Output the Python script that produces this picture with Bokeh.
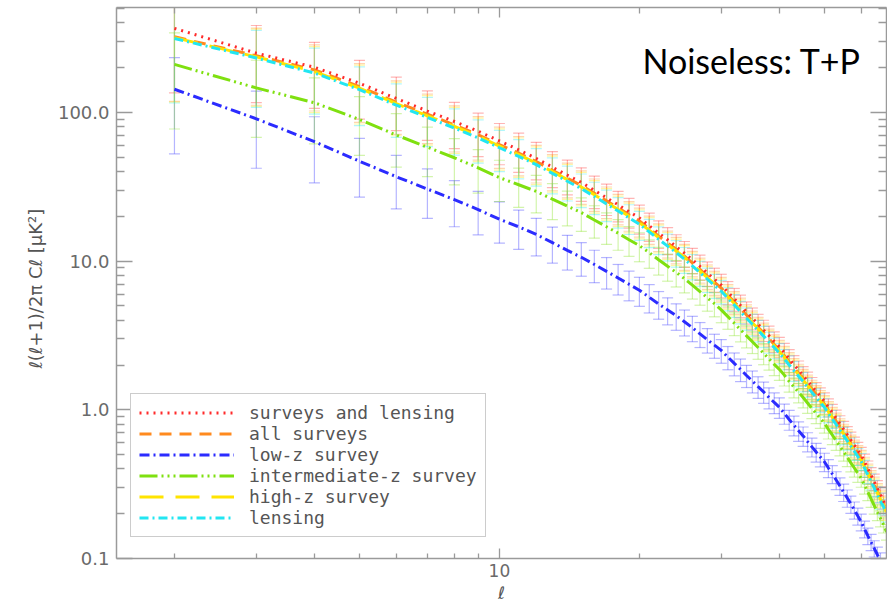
from bokeh.plotting import figure
from bokeh.models import FixedTicker, LogAxis, Legend, LegendItem, Label
from bokeh.embed import file_html
from bokeh.resources import INLINE

# multipoles
ell = list(range(2, 69))

surveys_and_lensing = [367, 250, 201, 157, 124, 102, 86.8, 74.6, 64.3, 56.0,
                       49.0, 42.8, 37.8, 33.8, 29.9, 26.6, 23.9, 21.5, 19.5, 17.3,
                       15.4, 13.9, 12.5, 11.3, 10.2, 9.20, 8.31, 7.56, 6.90, 6.18,
                       5.57, 5.03, 4.54, 4.14, 3.76, 3.44, 3.15, 2.88, 2.65, 2.42,
                       2.20, 2.01, 1.85, 1.70, 1.56, 1.44, 1.33, 1.23, 1.14, 1.04,
                       0.956, 0.876, 0.803, 0.738, 0.680, 0.626, 0.579, 0.534, 0.495, 0.446,
                       0.402, 0.363, 0.328, 0.297, 0.270, 0.245, 0.220]
all_surveys = [322, 240, 193, 149, 117, 97.1, 82.4, 70.7, 60.7, 53.1,
               46.7, 40.8, 36.1, 32.2, 28.6, 25.4, 22.8, 20.5, 18.6, 16.5,
               14.7, 13.2, 12.0, 10.8, 9.73, 8.78, 7.93, 7.21, 6.58, 5.90,
               5.31, 4.80, 4.34, 3.95, 3.59, 3.29, 3.00, 2.75, 2.53, 2.31,
               2.10, 1.92, 1.76, 1.63, 1.49, 1.38, 1.27, 1.18, 1.09, 0.995,
               0.912, 0.836, 0.767, 0.705, 0.649, 0.597, 0.552, 0.509, 0.473, 0.425,
               0.383, 0.347, 0.313, 0.284, 0.257, 0.234, 0.210]
low_z = [143, 90.5, 63.5, 46.9, 36.9, 30.5, 25.9, 22.2, 19.1, 17.0,
         15.1, 13.3, 11.8, 10.6, 9.49, 8.52, 7.70, 6.98, 6.37, 5.71,
         5.15, 4.69, 4.29, 3.91, 3.56, 3.24, 2.96, 2.72, 2.51, 2.26,
         2.05, 1.87, 1.70, 1.56, 1.43, 1.32, 1.21, 1.12, 1.04, 0.946,
         0.860, 0.787, 0.722, 0.667, 0.611, 0.563, 0.520, 0.482, 0.447, 0.406,
         0.370, 0.337, 0.307, 0.279, 0.255, 0.232, 0.212, 0.193, 0.176, 0.158,
         0.142, 0.129, 0.117, 0.106, 0.0970, 0.0888, 0.0800]
intermediate_z = [210, 146, 116, 89.5, 70.4, 58.3, 49.5, 42.4, 36.4, 32.6,
                  29.4, 26.1, 23.4, 21.2, 18.9, 17.0, 15.4, 13.9, 12.7, 11.4,
                  10.2, 9.22, 8.39, 7.62, 6.89, 6.24, 5.66, 5.17, 4.70, 4.23,
                  3.82, 3.46, 3.14, 2.87, 2.62, 2.40, 2.20, 2.02, 1.87, 1.71,
                  1.55, 1.42, 1.31, 1.21, 1.11, 1.02, 0.944, 0.874, 0.811, 0.739,
                  0.677, 0.619, 0.567, 0.521, 0.479, 0.440, 0.406, 0.374, 0.346, 0.311,
                  0.280, 0.252, 0.227, 0.205, 0.186, 0.169, 0.151]
high_z = [318, 236, 188, 145.5, 114.5, 94.8, 80.5, 69.0, 59.2, 51.9,
          45.6, 39.9, 35.3, 31.5, 27.9, 24.8, 22.2, 20.0, 18.1, 16.1,
          14.4, 12.9, 11.7, 10.6, 9.50, 8.57, 7.74, 7.04, 6.43, 5.76,
          5.19, 4.68, 4.23, 3.85, 3.51, 3.21, 2.93, 2.69, 2.47, 2.26,
          2.05, 1.88, 1.72, 1.59, 1.46, 1.34, 1.24, 1.15, 1.07, 0.972,
          0.891, 0.816, 0.748, 0.688, 0.633, 0.583, 0.539, 0.497, 0.461, 0.415,
          0.374, 0.338, 0.305, 0.277, 0.251, 0.229, 0.205]
lensing = [314, 232, 184, 142, 111.7, 92.5, 78.5, 67.3, 57.8, 50.6,
           44.5, 38.9, 34.4, 30.7, 27.2, 24.2, 21.7, 19.5, 17.7, 15.7,
           14.0, 12.6, 11.4, 10.3, 9.27, 8.36, 7.55, 6.87, 6.27, 5.62,
           5.06, 4.57, 4.13, 3.76, 3.42, 3.13, 2.86, 2.62, 2.41, 2.20,
           2.00, 1.83, 1.68, 1.55, 1.42, 1.31, 1.21, 1.12, 1.04, 0.948,
           0.869, 0.796, 0.730, 0.671, 0.618, 0.569, 0.526, 0.485, 0.450, 0.405,
           0.365, 0.330, 0.298, 0.270, 0.245, 0.223, 0.200]
# fractional 1-sigma error bars
rel_err = [0.632, 0.535, 0.471, 0.426, 0.392, 0.365, 0.343, 0.324, 0.309, 0.295,
           0.283, 0.272, 0.263, 0.254, 0.246, 0.239, 0.232, 0.226, 0.221, 0.216,
           0.211, 0.206, 0.202, 0.198, 0.194, 0.191, 0.187, 0.184, 0.181, 0.178,
           0.175, 0.173, 0.170, 0.168, 0.166, 0.163, 0.161, 0.159, 0.157, 0.155,
           0.153, 0.152, 0.150, 0.148, 0.147, 0.145, 0.144, 0.142, 0.141, 0.139,
           0.138, 0.137, 0.135, 0.134, 0.133, 0.132, 0.131, 0.130, 0.129, 0.128,
           0.126, 0.125, 0.125, 0.124, 0.123, 0.122, 0.121]

series_labels = ["surveys and lensing", "all surveys", "low-z survey",
                 "intermediate-z survey", "high-z survey", "lensing"]
series_values = [surveys_and_lensing, all_surveys, low_z, intermediate_z, high_z, lensing]
y_major = [0.1, 1, 10, 100]
y_minor = [0.2, 0.3, 0.4, 0.5, 0.6, 0.7, 0.8, 0.9, 2, 3, 4, 5, 6, 7, 8, 9,
           20, 30, 40, 50, 60, 70, 80, 90, 200, 300, 400, 500]
y_tick_labels = {0.1: "0.1", 1: "1.0", 10: "10.0", 100: "100.0"}
x_major = [10]
x_minor = [2, 3, 4, 5, 6, 7, 8, 9, 20, 30, 40, 50, 60]
x_tick_labels = {10: "10"}

colors = ["#ff2b2b", "#ff8a1e", "#2b2bff", "#7fe010", "#ffe400", "#22e6f2"]
dashes = ["2 5", "12 8", "10 4 2 4", "18 4 2 4 2 4 2 4", "24 12", "9 4 2 4"]

p = figure(x_axis_type="log", y_axis_type="log",
           x_range=(1.501, 68.0), y_range=(0.1, 507),
           width=887, height=613,
           min_border_left=116, min_border_right=1, min_border_top=7, min_border_bottom=55,
           output_backend="svg", toolbar_location=None,
           background_fill_color="white", border_fill_color="white")
p.outline_line_color = None
p.xgrid.visible = False
p.ygrid.visible = False

axis_col = "#9a9a9a"
label_col = "#6a6a6a"

def style_axis(ax, major_in, minor_in):
    ax.axis_line_color = axis_col
    ax.axis_line_width = 1.5
    ax.major_tick_line_color = axis_col
    ax.minor_tick_line_color = axis_col
    ax.major_tick_line_width = 1.3
    ax.minor_tick_line_width = 1.3
    ax.major_tick_in = major_in
    ax.major_tick_out = 0
    ax.minor_tick_in = minor_in
    ax.minor_tick_out = 0

ya = p.yaxis[0]
ya.ticker = FixedTicker(ticks=y_major, minor_ticks=y_minor)
ya.major_label_overrides = y_tick_labels
style_axis(ya, 16, 8)
ya.major_label_text_font = "DejaVu Sans"
ya.major_label_text_font_size = "18px"
ya.major_label_text_color = label_col
ya.major_label_standoff = 7
ya.axis_label = "ℓ(ℓ+1)/2π  Cℓ  [μK²]"
ya.axis_label_text_font = "DejaVu Sans"
ya.axis_label_text_font_size = "18px"
ya.axis_label_text_font_style = "normal"
ya.axis_label_text_color = "#555555"
ya.axis_label_standoff = 9

xa = p.xaxis[0]
xa.ticker = FixedTicker(ticks=x_major, minor_ticks=x_minor)
xa.major_label_overrides = x_tick_labels
style_axis(xa, 10, 5)
xa.major_label_text_font = "DejaVu Sans"
xa.major_label_text_font_size = "17px"
xa.major_label_text_color = label_col
xa.major_label_standoff = 5
xa.axis_label = "ℓ"
xa.axis_label_text_font = "DejaVu Sans"
xa.axis_label_text_font_size = "17px"
xa.axis_label_text_font_style = "italic"
xa.axis_label_text_color = "#555555"
xa.axis_label_standoff = 3

top = LogAxis(ticker=FixedTicker(ticks=x_major, minor_ticks=x_minor),
              major_label_text_font_size="1px", major_label_text_alpha=0,
              major_label_standoff=0)
style_axis(top, 10, 6)
p.add_layout(top, "above")
right = LogAxis(ticker=FixedTicker(ticks=y_major, minor_ticks=y_minor),
                major_label_text_font_size="1px", major_label_text_alpha=0,
                major_label_standoff=0)
style_axis(right, 16, 8)
p.add_layout(right, "right")

# error bars
for vals, col in zip(series_values, colors):
    lo = [v * (1 - e) for v, e in zip(vals, rel_err)]
    hi = [v * (1 + e) for v, e in zip(vals, rel_err)]
    p.segment(x0=ell, y0=lo, x1=ell, y1=hi, line_color=col, line_alpha=0.35, line_width=1.2)
    p.scatter(x=ell + ell, y=lo + hi, marker="dash", size=11,
              line_color=col, line_alpha=0.35, line_width=1.2)

# curves (draw order chosen so red dots and cyan stay visible)
renderers = {}
order = [1, 4, 5, 0, 3, 2]
for i in order:
    r = p.line(ell, series_values[i], line_color=colors[i], line_width=3,
               line_dash=dashes[i])
    renderers[i] = r

legend = Legend(items=[LegendItem(label=series_labels[i], renderers=[renderers[i]])
                       for i in range(6)],
                location=(14, 21), orientation="vertical",
                padding=8, spacing=0, margin=0,
                glyph_width=95, glyph_height=21, label_height=21, label_standoff=15,
                label_text_font="DejaVu Sans Mono", label_text_font_size="18px",
                label_text_color="#555555",
                border_line_color="#9a9a9a", border_line_width=1.5,
                background_fill_color="white", background_fill_alpha=1.0)
p.add_layout(legend, "center")

p.add_layout(Label(x=526, y=498, x_units="screen", y_units="screen",
                   text="Noiseless: T+P", text_font="Lato", text_font_size="34px",
                   text_color="black", text_baseline="alphabetic", text_align="left"))

open("out.html", "w").write(file_html(p, INLINE))
